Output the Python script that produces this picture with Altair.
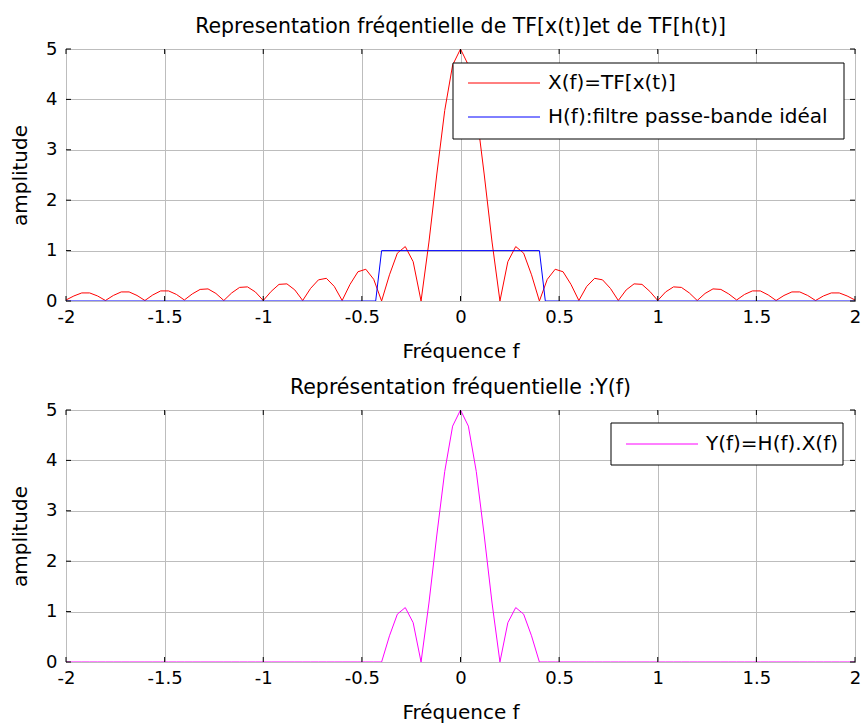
import altair as alt
import pandas as pd

# ---------------- data ----------------
freq = [-2.00, -1.96, -1.92, -1.88, -1.84, -1.80, -1.76, -1.72, -1.68, -1.64,
        -1.60, -1.56, -1.52, -1.48, -1.44, -1.40, -1.36, -1.32, -1.28, -1.24,
        -1.20, -1.16, -1.12, -1.08, -1.04, -1.00, -0.96, -0.92, -0.88, -0.84,
        -0.80, -0.76, -0.72, -0.68, -0.64, -0.60, -0.56, -0.52, -0.48, -0.44,
        -0.40, -0.36, -0.32, -0.28, -0.24, -0.20, -0.16, -0.12, -0.08, -0.04,
        0.00, 0.04, 0.08, 0.12, 0.16, 0.20, 0.24, 0.28, 0.32, 0.36,
        0.40, 0.44, 0.48, 0.52, 0.56, 0.60, 0.64, 0.68, 0.72, 0.76,
        0.80, 0.84, 0.88, 0.92, 0.96, 1.00, 1.04, 1.08, 1.12, 1.16,
        1.20, 1.24, 1.28, 1.32, 1.36, 1.40, 1.44, 1.48, 1.52, 1.56,
        1.60, 1.64, 1.68, 1.72, 1.76, 1.80, 1.84, 1.88, 1.92, 1.96, 2.00]

x_amp = [0.02, 0.10, 0.16, 0.16, 0.10, 0.01, 0.11, 0.18, 0.18, 0.11,
         0.01, 0.12, 0.20, 0.20, 0.13, 0.02, 0.14, 0.23, 0.24, 0.15,
         0.01, 0.16, 0.27, 0.28, 0.18, 0.01, 0.19, 0.33, 0.34, 0.22,
         0.01, 0.25, 0.42, 0.45, 0.29, 0.01, 0.33, 0.58, 0.63, 0.43,
         0.00, 0.52, 0.95, 1.08, 0.78, 0.00, 1.17, 2.52, 3.78, 4.68,
         5.00, 4.68, 3.78, 2.52, 1.17, 0.00, 0.78, 1.08, 0.95, 0.52,
         0.00, 0.43, 0.63, 0.58, 0.33, 0.01, 0.29, 0.45, 0.42, 0.25,
         0.01, 0.22, 0.34, 0.33, 0.19, 0.01, 0.18, 0.28, 0.27, 0.16,
         0.01, 0.15, 0.24, 0.23, 0.14, 0.02, 0.13, 0.20, 0.20, 0.12,
         0.01, 0.11, 0.18, 0.18, 0.11, 0.01, 0.10, 0.16, 0.16, 0.10, 0.02]

y_amp = [0.00, 0.00, 0.00, 0.00, 0.00, 0.00, 0.00, 0.00, 0.00, 0.00,
         0.00, 0.00, 0.00, 0.00, 0.00, 0.00, 0.00, 0.00, 0.00, 0.00,
         0.00, 0.00, 0.00, 0.00, 0.00, 0.00, 0.00, 0.00, 0.00, 0.00,
         0.00, 0.00, 0.00, 0.00, 0.00, 0.00, 0.00, 0.00, 0.00, 0.00,
         0.00, 0.52, 0.95, 1.08, 0.78, 0.00, 1.17, 2.52, 3.78, 4.68,
         5.00, 4.68, 3.78, 2.52, 1.17, 0.00, 0.78, 1.08, 0.95, 0.52,
         0.00, 0.00, 0.00, 0.00, 0.00, 0.00, 0.00, 0.00, 0.00, 0.00,
         0.00, 0.00, 0.00, 0.00, 0.00, 0.00, 0.00, 0.00, 0.00, 0.00,
         0.00, 0.00, 0.00, 0.00, 0.00, 0.00, 0.00, 0.00, 0.00, 0.00,
         0.00, 0.00, 0.00, 0.00, 0.00, 0.00, 0.00, 0.00, 0.00, 0.00, 0.00]

h_freq = [-2.00, -0.43, -0.40, 0.40, 0.43, 2.00]
h_amp = [0, 0, 1, 1, 0, 0]

x_ticks = [-2, -1.5, -1, -0.5, 0, 0.5, 1, 1.5, 2]
y_ticks = [0, 1, 2, 3, 4, 5]

title_top = "Representation fréqentielle de TF[x(t)]et de TF[h(t)]"
title_bot = "Représentation fréquentielle :Y(f)"
x_title = "Fréquence f"
y_title = "amplitude"
leg_x = "X(f)=TF[x(t)]"
leg_h = "H(f):filtre passe-bande idéal"
leg_y = "Y(f)=H(f).X(f)"

# ---------------- styling ----------------
FONT = "DejaVu Sans"
W, H = 789, 252
TICK = 5
GRID = "#bdbdbd"

df_x = pd.DataFrame({"f": freq, "a": x_amp})
df_y = pd.DataFrame({"f": freq, "a": y_amp})
df_h = pd.DataFrame({"f": h_freq, "a": h_amp})
df_xt = pd.DataFrame({"f": x_ticks})
df_yt = pd.DataFrame({"a": y_ticks})
one = pd.DataFrame({"k": [0]})

xscale = alt.Scale(domain=[-2, 2], nice=False, zero=False)
yscale = alt.Scale(domain=[0, 5], nice=False, zero=False)

xaxis = alt.Axis(values=x_ticks, labelExpr="'' + datum.value", title=x_title,
                 grid=True, gridColor=GRID, gridWidth=1, ticks=False,
                 domain=False, labelFlush=False, labelPadding=7,
                 labelFontSize=18, titleFontSize=20, labelFont=FONT,
                 titleFont=FONT, titleFontWeight="normal", labelColor="black",
                 titleColor="black", titlePadding=15)
yaxis = alt.Axis(values=y_ticks, labelExpr="'' + datum.value", title=y_title,
                 grid=True, gridColor=GRID, gridWidth=1, ticks=False,
                 domain=False, labelFlush=False, labelPadding=9,
                 labelFontSize=18, titleFontSize=20, labelFont=FONT,
                 titleFont=FONT, titleFontWeight="normal", labelColor="black",
                 titleColor="black", titlePadding=15)


def enc_xy(mark):
    return mark.encode(
        x=alt.X("f:Q", scale=xscale, axis=xaxis),
        y=alt.Y("a:Q", scale=yscale, axis=yaxis),
    )


def tick_layers():
    bx = alt.Chart(df_xt).mark_rule(color="black", strokeWidth=1).encode(
        x=alt.X("f:Q", scale=xscale, axis=xaxis),
        y=alt.value(H), y2=alt.value(H - TICK))
    tx = alt.Chart(df_xt).mark_rule(color="black", strokeWidth=1).encode(
        x=alt.X("f:Q", scale=xscale, axis=xaxis),
        y=alt.value(0), y2=alt.value(TICK))
    ly = alt.Chart(df_yt).mark_rule(color="black", strokeWidth=1).encode(
        y=alt.Y("a:Q", scale=yscale, axis=yaxis),
        x=alt.value(0), x2=alt.value(TICK))
    ry = alt.Chart(df_yt).mark_rule(color="black", strokeWidth=1).encode(
        y=alt.Y("a:Q", scale=yscale, axis=yaxis),
        x=alt.value(W), x2=alt.value(W - TICK))
    return [bx, tx, ly, ry]


def legend(box, entries):
    x0, x1, y0, y1 = box
    layers = [alt.Chart(one).mark_rect(fill="white", stroke="black", strokeWidth=1).encode(
        x=alt.value(x0), x2=alt.value(x1), y=alt.value(y0), y2=alt.value(y1))]
    for (lx0, lx1, ly, color, label) in entries:
        layers.append(alt.Chart(one).mark_rule(color=color, strokeWidth=1).encode(
            x=alt.value(lx0), x2=alt.value(lx1), y=alt.value(ly)))
        layers.append(alt.Chart(one).mark_text(
            align="left", baseline="middle", font=FONT, fontSize=20, color="black").encode(
            x=alt.value(lx1 + 8), y=alt.value(ly), text=alt.value(label)))
    return layers


def title(t):
    return alt.TitleParams(text=t, font=FONT, fontSize=20.5, fontWeight="normal",
                           color="black", anchor="middle", offset=3)


red = enc_xy(alt.Chart(df_x).mark_line(color="#ff0000", strokeWidth=1, clip=True))
blue = enc_xy(alt.Chart(df_h).mark_line(color="#0000ff", strokeWidth=1, clip=True))
mag = enc_xy(alt.Chart(df_y).mark_line(color="#ff00ff", strokeWidth=1, clip=True))

top = alt.layer(
    red, blue, *tick_layers(),
    *legend((387, 778, 14, 90),
            [(402, 474, 34, "#ff0000", leg_x), (402, 474, 68, "#0000ff", leg_h)])
).properties(width=W, height=H, title=title(title_top))

bottom = alt.layer(
    mag, *tick_layers(),
    *legend((545, 777, 13, 55), [(560, 632, 34, "#ff00ff", leg_y)])
).properties(width=W, height=H, title=title(title_bot))

chart = alt.vconcat(top, bottom, spacing=15).properties(
    padding={"left": 10, "top": 16, "right": 0, "bottom": 0},
    background="white",
).configure_view(stroke="black", strokeWidth=1)

chart.save("out.html", embed_options={"renderer": "svg", "actions": False})
